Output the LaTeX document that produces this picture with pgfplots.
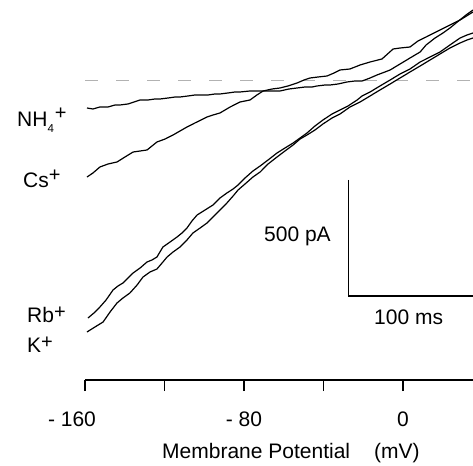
\documentclass[border=0pt]{standalone}
\usepackage{fontspec}
\setmainfont{Liberation Sans}
\usepackage{pgfplots}
\pgfplotsset{compat=1.18}
\newcommand{\lf}{\fontsize{21}{25}\selectfont}
\newcommand{\pf}{\fontsize{20}{22}\selectfont}
\begin{document}
\begin{tikzpicture}[x=1pt,y=1pt]
\useasboundingbox (0,0) rectangle (473,465);
\begin{axis}[
  at={(85pt,85pt)}, anchor=south west,
  scale only axis, width=388pt, height=380pt,
  xmin=-160, xmax=35.2, ymin=-1290, ymax=347.8,
  axis x line*=bottom, axis y line=none,
  xtick={-160,-120,-80,-40,0},
  xticklabels={- 160\rule{26pt}{0pt},,- 80,,0},
  tick align=outside, major tick length=11pt,
  x axis line style={line width=1.2pt,-},
  every tick/.style={black,line width=1.2pt},
  xticklabel style={font=\lf,anchor=base,yshift=-35pt},
  /pgf/number format/assume math mode=true,
  clip=true,
]
\addplot[gray!60, line width=1pt, dash pattern=on 13pt off 18pt] coordinates {(-160,0) (35.2,0)};
% NH4+
\addplot[black, line width=1.2pt, line join=round] coordinates {
(-159.0,-117.7) (-156.0,-122.0) (-152.5,-113.4) (-148.4,-113.4) (-144.9,-104.7) (-142.4,-104.7)
(-138.4,-100.4) (-135.3,-91.8) (-132.3,-83.2) (-128.3,-83.2) (-124.8,-78.9) (-122.3,-78.9)
(-118.2,-74.6) (-114.7,-70.3) (-112.2,-70.3) (-108.2,-65.9) (-104.7,-61.6) (-102.1,-61.6)
(-98.1,-61.6) (-94.6,-57.3) (-92.1,-57.3) (-88.1,-53.0) (-84.5,-48.7) (-82.0,-48.7)
(-77.0,-44.4) (-71.9,-44.4) (-66.9,-44.4) (-61.9,-44.4) (-57.4,-35.8) (-53.3,-31.5)
(-49.3,-27.2) (-45.8,-27.2) (-43.3,-22.8) (-39.2,-18.5) (-36.7,-18.5) (-32.7,-14.2)
(-28.2,-5.6) (-24.2,-1.3) (-20.6,-1.3) (-16.6,11.6) (-13.1,24.6) (-9.1,37.5) (-6.5,46.1)
(-1.5,72.0) (3.5,97.8) (8.6,123.7) (11.6,153.9) (16.1,184.0) (20.1,205.6) (23.6,227.1)
(26.7,248.7) (31.7,283.2) (35.2,304.7)};
% Cs+
\addplot[black, line width=1.2pt, line join=round] coordinates {
(-159.0,-415.1) (-156.0,-397.8) (-152.5,-372.0) (-148.4,-359.0) (-143.9,-350.4) (-139.9,-328.9)
(-135.8,-307.3) (-132.3,-303.0) (-128.8,-298.7) (-126.3,-281.4) (-123.8,-264.2) (-119.7,-251.3)
(-115.7,-234.0) (-112.2,-216.8) (-108.7,-199.6) (-104.7,-182.3) (-98.6,-156.5) (-95.6,-147.8)
(-92.1,-139.2) (-87.0,-113.4) (-82.0,-91.8) (-77.0,-83.2) (-73.5,-61.6) (-70.4,-44.4)
(-65.9,-35.8) (-61.9,-31.5) (-57.9,-22.8) (-53.3,-9.9) (-49.8,3.0) (-46.8,11.6) (-42.8,15.9)
(-38.2,20.3) (-34.7,33.2) (-31.7,46.1) (-26.7,50.4) (-21.6,67.7) (-16.6,80.6) (-10.6,93.5)
(-5.0,136.6) (-1.5,140.9) (3.5,145.2) (7.5,171.1) (11.6,188.3) (16.6,209.9) (23.6,240.1)
(28.7,261.6) (35.2,296.1)};
% Rb+
\addplot[black, line width=1.2pt, line join=round] coordinates {
(-158.5,-1022.8) (-155.5,-1001.2) (-152.5,-975.4) (-149.4,-945.2) (-145.9,-902.1) (-143.4,-884.8)
(-140.9,-871.9) (-138.4,-850.4) (-135.8,-828.8) (-132.3,-807.3) (-128.8,-781.4) (-126.3,-772.8)
(-123.8,-759.9) (-122.3,-738.3) (-120.8,-716.8) (-117.2,-695.2) (-113.7,-673.7) (-111.2,-656.4)
(-108.7,-634.9) (-106.2,-604.7) (-103.6,-578.8) (-99.6,-557.3) (-95.6,-535.7) (-92.1,-505.6)
(-88.6,-484.0) (-85.5,-466.8) (-83.0,-449.5) (-79.5,-419.4) (-75.5,-389.2) (-71.9,-367.6)
(-67.9,-341.8) (-63.4,-311.6) (-59.4,-290.1) (-55.3,-268.5) (-51.8,-247.0) (-48.3,-225.4)
(-44.3,-195.2) (-40.3,-169.4) (-35.7,-143.5) (-31.7,-126.3) (-27.7,-109.0) (-23.1,-83.2)
(-20.6,-65.9) (-16.6,-48.7) (-11.6,-22.8) (-6.5,3.0) (-1.5,28.9) (3.5,50.4) (8.6,80.6)
(13.6,102.1) (18.6,123.7) (23.6,153.9) (28.7,184.0) (32.2,197.0) (35.2,205.6)};
% K+
\addplot[black, line width=1.2pt, line join=round] coordinates {
(-159.0,-1083.1) (-155.0,-1061.6) (-150.9,-1040.0) (-147.4,-996.9) (-143.9,-958.1) (-140.9,-936.6)
(-137.4,-915.0) (-133.8,-880.5) (-130.8,-846.1) (-127.3,-824.5) (-123.8,-811.6) (-120.8,-781.4)
(-118.7,-759.9) (-115.7,-738.3) (-112.2,-716.8) (-108.7,-686.6) (-105.7,-656.4) (-102.1,-634.9)
(-98.6,-613.3) (-95.6,-587.5) (-92.1,-557.3) (-88.6,-527.1) (-85.5,-497.0) (-83.0,-471.1)
(-79.5,-445.2) (-75.5,-415.1) (-71.9,-393.5) (-67.9,-359.0) (-63.4,-328.9) (-59.4,-303.0)
(-55.3,-277.1) (-51.8,-251.3) (-48.3,-234.0) (-44.3,-212.5) (-40.3,-186.6) (-35.7,-160.8)
(-31.7,-143.5) (-26.7,-113.4) (-21.6,-91.8) (-16.6,-65.9) (-11.6,-40.1) (-6.5,-14.2)
(-1.5,11.6) (3.5,37.5) (8.6,63.4) (13.6,89.2) (18.6,115.1) (23.6,140.9) (28.7,162.5)
(32.2,175.4) (35.2,184.0)};
% scale bar
\draw[line width=1.2pt] (axis cs:-27.5,-428) -- (axis cs:-27.5,-928) -- (axis cs:40,-928);
\end{axis}
\node[anchor=base west, font=\lf, inner sep=0pt] at (17,338) {NH\raisebox{-6pt}{\fontsize{11.5}{12}\selectfont 4}\kern1pt\raisebox{7pt}{\pf +}};
\node[anchor=base west, font=\lf, inner sep=0pt] at (23,277) {Cs\raisebox{6pt}{\pf +}};
\node[anchor=base west, font=\lf, inner sep=0pt] at (27,142) {Rb\raisebox{4pt}{\pf +}};
\node[anchor=base west, font=\lf, inner sep=0pt] at (27,112) {K\raisebox{4pt}{\pf +}};
\node[anchor=base west, font=\lf, inner sep=0pt] at (264,223) {500 pA};
\node[anchor=base west, font=\lf, inner sep=0pt] at (374,140) {100 ms};
\node[anchor=base west, font=\lf, inner sep=0pt] at (162,6) {Membrane Potential\hspace{24pt}(mV)};
\end{tikzpicture}
\end{document}
